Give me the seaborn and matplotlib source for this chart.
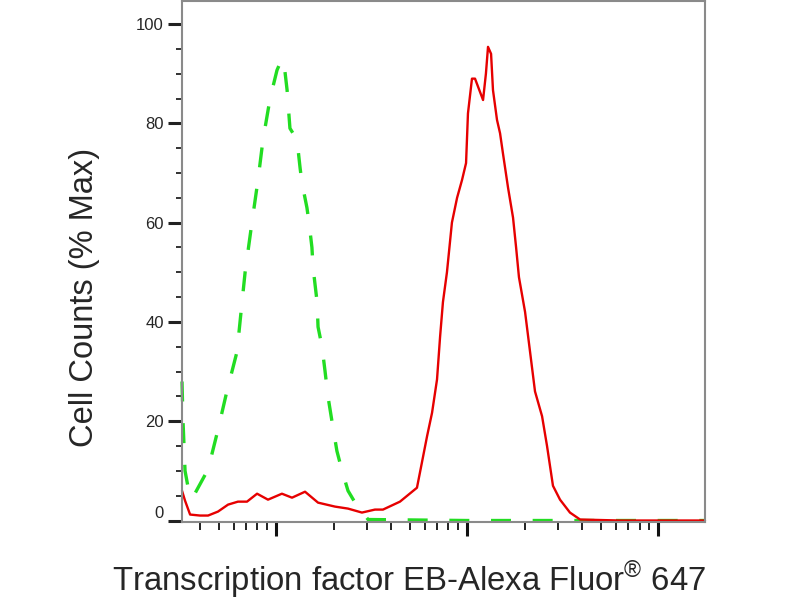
"""Flow cytometry overlay: TFEB staining vs. isotype control."""

import matplotlib

matplotlib.use("Agg")

import matplotlib.pyplot as plt
import pandas as pd
import seaborn as sns
from matplotlib.ticker import LogLocator, MultipleLocator, NullFormatter


# Control (green, dashed)
CONTROL_X = [
    32.2, 32.6, 33.4, 35.5, 37.7, 44.1, 49.7, 55.3, 62.5, 66.4, 68.9, 74.8,
    80.5, 85.5, 93.1, 101.2, 107.4, 110.2, 114.3, 118.3, 128.8, 133.7, 136.8,
    145.2, 148.9, 154.2, 156.3, 164.1, 166.0, 174.2, 180.7, 187.1, 196.3,
    208.4, 221.8, 238.2, 259.4, 303.4, 1000.0, 17620.0,
]
CONTROL_Y = [
    28.0, 20.0, 10.0, 4.5, 5.5, 10.3, 18.3, 26.0, 34.0, 44.0, 50.0, 60.0,
    68.6, 76.7, 85.0, 90.7, 93.0, 92.0, 86.7, 79.0, 76.7, 71.0, 68.0,
    63.0, 60.0, 55.0, 51.0, 44.0, 39.0, 35.0, 30.0, 25.0, 20.0,
    14.0, 10.0, 6.0, 3.6, 0.2, 0.0, 0.0,
]

# Stained sample (red, solid)
STAINED_X = [
    32.2, 33.4, 35.5, 40.0, 44.1, 49.7, 56.1, 63.2, 70.5, 79.6, 90.8, 107.4,
    121.3, 141.9, 166.0, 203.7, 238.2, 281.8, 329.6, 363.1, 445.7, 547.0,
    580.8, 618.0, 656.1, 696.6, 722.8, 748.2, 785.2, 833.7, 887.2, 941.9,
    988.6, 1011.6, 1061.7, 1101.5, 1213.4, 1256.0, 1288.2, 1336.5, 1367.7,
    1435.5, 1489.4, 1541.7, 1640.6, 1741.8, 1807.2, 1870.7, 2013.7, 2138.0,
    2269.9, 2471.7, 2624.2, 2818.4, 3069.0, 3459.4, 3908.4, 6310.0, 17620.0,
]
STAINED_Y = [
    6.0, 4.0, 1.2, 1.0, 1.0, 1.8, 3.2, 3.8, 3.8, 5.4, 4.2, 5.4,
    4.6, 5.8, 3.6, 2.8, 2.4, 1.6, 2.2, 2.2, 3.8, 6.6,
    11.7, 17.0, 21.7, 28.4, 37.0, 44.0, 50.0, 60.0, 65.0, 68.6,
    72.0, 82.0, 89.0, 89.0, 84.7, 90.0, 95.4, 94.0, 86.7,
    80.7, 78.0, 74.0, 67.0, 61.0, 55.0, 49.0, 42.0, 34.0,
    26.0, 21.0, 15.0, 7.0, 4.2, 1.6, 0.2, 0.0, 0.0,
]

Y_TICKS = [0, 20, 40, 60, 80, 100]
X_LIMITS = (32.2, 17620.0)
Y_LIMITS = (-0.3, 104.6)

X_LABEL = "Transcription factor EB-Alexa Fluor$^{\\mathrm{®}}$ 647"
Y_LABEL = "Cell Counts (% Max)"

GREEN = "#22dd22"
RED = "#e60000"
SPINE_GRAY = "#8a8a8a"


def build_frame(x_values, y_values, name):
    return pd.DataFrame({"intensity": x_values, "percent_max": y_values, "sample": name})


def main():
    sns.set_style("white")
    plt.rcParams["font.family"] = ["Liberation Sans", "DejaVu Sans"]
    plt.rcParams["mathtext.fontset"] = "custom"
    plt.rcParams["mathtext.rm"] = "Liberation Sans"

    fig = plt.figure(figsize=(8, 6), dpi=100)
    ax = fig.add_axes([0.2275, 0.13, 0.88125 - 0.2275, 0.998 - 0.13])

    control = build_frame(CONTROL_X, CONTROL_Y, "control")
    stained = build_frame(STAINED_X, STAINED_Y, "stained")

    sns.lineplot(
        data=control, x="intensity", y="percent_max", ax=ax,
        color=GREEN, linewidth=2.4, estimator=None, clip_on=False,
    )
    ax.lines[-1].set_dashes((6, 6.5))
    sns.lineplot(
        data=stained, x="intensity", y="percent_max", ax=ax,
        color=RED, linewidth=1.7, estimator=None, clip_on=False,
    )

    ax.set_xscale("log")
    ax.set_xlim(*X_LIMITS)
    ax.set_ylim(*Y_LIMITS)

    ax.xaxis.set_major_locator(LogLocator(base=10))
    ax.xaxis.set_minor_locator(LogLocator(base=10, subs=range(2, 10)))
    ax.xaxis.set_major_formatter(NullFormatter())
    ax.xaxis.set_minor_formatter(NullFormatter())

    ax.set_yticks(Y_TICKS)
    ax.yaxis.set_minor_locator(MultipleLocator(5))

    for spine in ax.spines.values():
        spine.set_color(SPINE_GRAY)
        spine.set_linewidth(1.5)
        spine.set_visible(True)

    ax.tick_params(axis="x", which="major", direction="out", length=10,
                   width=2.2, color="#111111", bottom=True)
    ax.tick_params(axis="x", which="minor", direction="out", length=6,
                   width=1.3, color="#111111", bottom=True)
    ax.tick_params(axis="y", which="major", direction="out", length=10,
                   width=2.2, color="#222222", labelsize=12, pad=3, left=True)
    ax.tick_params(axis="y", which="minor", direction="out", length=4.5,
                   width=1.3, color="#222222", left=True)

    labels = ax.get_yticklabels()
    labels[0].set_verticalalignment("bottom")

    ax.set_xlabel(X_LABEL, fontsize=23.7)
    ax.xaxis.set_label_coords(0.434, -0.071)
    ax.set_ylabel(Y_LABEL, fontsize=23.5)
    ax.yaxis.set_label_coords(-0.157, 0.432)

    ax.grid(False)
    fig.savefig("out.png", dpi=100)
    plt.close(fig)


if __name__ == "__main__":
    main()
